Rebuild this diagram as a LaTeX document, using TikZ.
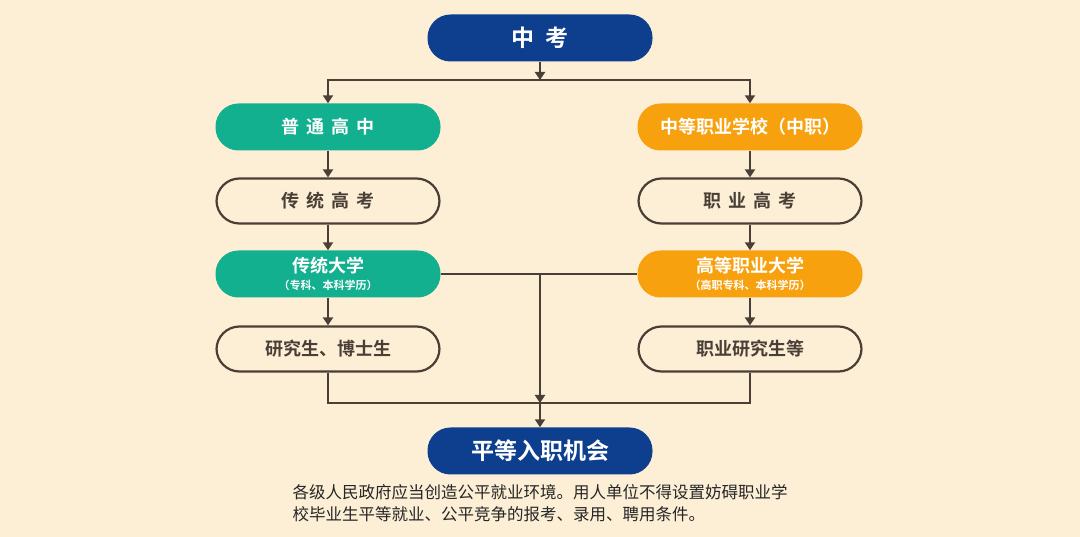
\documentclass[tikz,border=0pt]{standalone}
\usepackage{fontspec}
\setmainfont{Noto Sans CJK SC}
\newfontfamily\cjkbold{Noto Sans CJK SC Bold}
\usetikzlibrary{arrows.meta,positioning}
\definecolor{bgcream}{HTML}{FCEFD6}
\definecolor{navyblue}{HTML}{0E3F8E}
\definecolor{tealgreen}{HTML}{13B08F}
\definecolor{amberorange}{HTML}{F8A10F}
\definecolor{linebrown}{HTML}{4A3F36}
\begin{document}
\begin{tikzpicture}[
    x=1pt, y=-1pt,
    >={Triangle[length=8pt,width=10pt]},
    every node/.style={font=\cjkbold},
    pill/.style={rounded corners=23pt, minimum width=225pt, minimum height=47pt,
        inner sep=0pt, align=center},
    bluepill/.style={pill, fill=navyblue, text=white, font=\cjkbold\fontsize{23}{25}\selectfont},
    greenpill/.style={pill, fill=tealgreen, text=white, font=\cjkbold\fontsize{18}{20}\selectfont},
    orangepill/.style={pill, fill=amberorange, text=white, font=\cjkbold\fontsize{18}{20}\selectfont},
    plainpill/.style={pill, draw=linebrown, line width=2.2pt, fill=bgcream, text=linebrown,
        minimum width=223pt, minimum height=45pt, font=\cjkbold\fontsize{18}{20}\selectfont},
    flow/.style={linebrown, line width=2.2pt}
]
    % Background
    \fill[bgcream] (0,0) rectangle (1080,537);
    \useasboundingbox (0,0) rectangle (1080,537);

    % Nodes
    \node[bluepill] (zk) at (540,38) {中\hspace{0.5em}考};
    \node[greenpill] (ptgz) at (328,127) {普\hspace{0.4em}通\hspace{0.4em}高\hspace{0.4em}中};
    \node[orangepill] (zz) at (750,127) {中等职业学校（中职）};
    \node[plainpill] (ctgk) at (328,201) {传\hspace{0.4em}统\hspace{0.4em}高\hspace{0.4em}考};
    \node[plainpill] (zygk) at (750,201) {职\hspace{0.4em}业\hspace{0.4em}高\hspace{0.4em}考};
    \node[greenpill] (ctdx) at (328,274) {传统大学\\[-3pt]{\mdseries\fontsize{11}{12}\selectfont （专科、本科学历）}};
    \node[orangepill] (gzdx) at (750,274) {高等职业大学\\[-3pt]{\mdseries\fontsize{11}{12}\selectfont （高职专科、本科学历）}};
    \node[plainpill] (yjs) at (328,349) {研究生、博士生};
    \node[plainpill] (zyyjs) at (750,349) {职业研究生等};
    \node[bluepill] (pd) at (540,451) {平等入职机会};

    % Helper points
    \coordinate (split) at (540,80);
    \coordinate (mid) at (540,274);
    \coordinate (join) at (540,403);

    % Connectors
    \draw[flow, ->] (zk) -- (split);
    \draw[flow, ->] (ptgz.north |- split) -- (zz.north |- split) -- (zz);
    \draw[flow, ->] (split) -| (ptgz);
    \draw[flow, ->] (ptgz) -- (ctgk);
    \draw[flow, ->] (zz) -- (zygk);
    \draw[flow, ->] (ctgk) -- (ctdx);
    \draw[flow, ->] (zygk) -- (gzdx);
    \draw[flow, ->] (ctdx) -- (yjs);
    \draw[flow, ->] (gzdx) -- (zyyjs);
    \draw[flow] (ctdx) -- (gzdx);
    \draw[flow, ->] (mid) -- (join);
    \draw[flow] (yjs) |- (join) -| (zyyjs);
    \draw[flow, ->] (join) -- (pd);

    % Note
    \node[anchor=north west, align=left, text=black!85,
        font=\mdseries\fontsize{16.5}{22}\selectfont] (note) at (289,481)
        {各级人民政府应当创造公平就业环境。用人单位不得设置妨碍职业学\\校毕业生平等就业、公平竞争的报考、录用、聘用条件。};
\end{tikzpicture}
\end{document}
